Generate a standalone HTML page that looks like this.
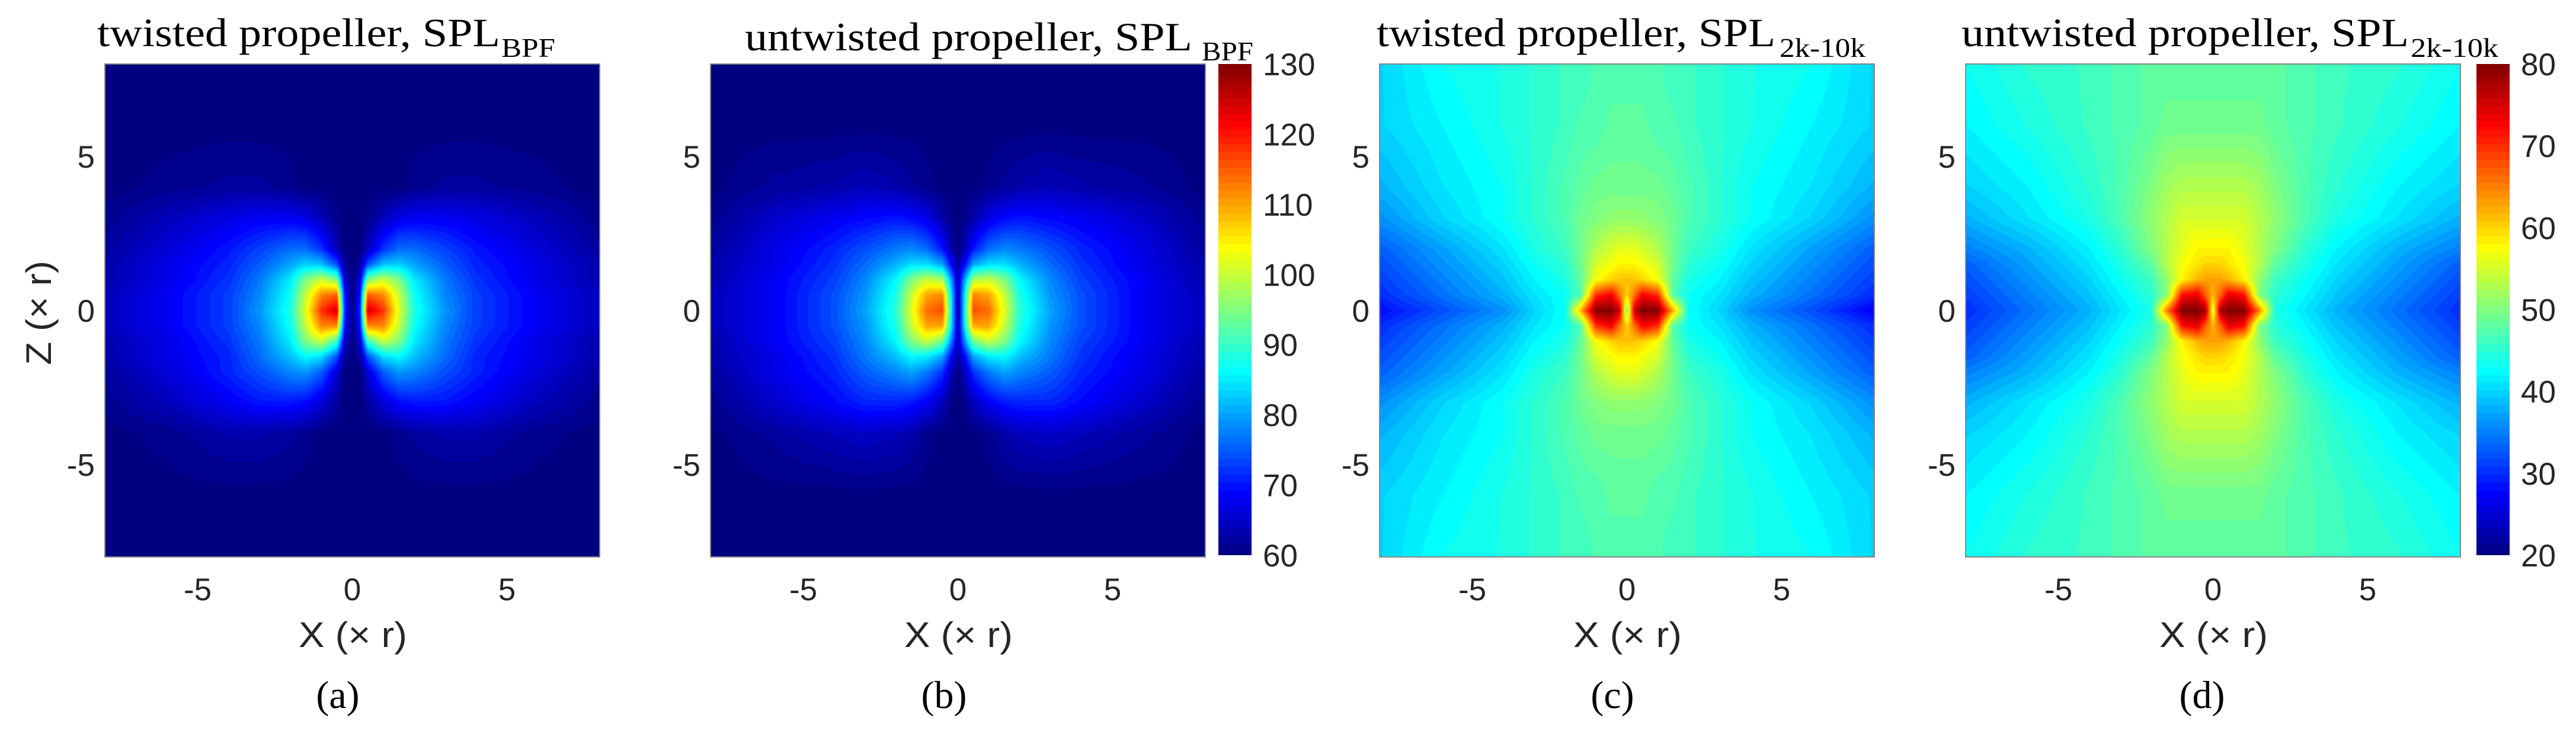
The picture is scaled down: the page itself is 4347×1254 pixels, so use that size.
<!DOCTYPE html>
<html><head><meta charset="utf-8">
<style>
html,body{margin:0;padding:0;background:#fff;}
#root{position:relative;width:4347px;height:1254px;overflow:hidden;background:#fff;}
canvas{position:absolute;}
svg{position:absolute;left:0;top:0;}
.tk{font-family:"Liberation Sans",Arial,sans-serif;font-size:53px;fill:#262626;}
.al{font-family:"Liberation Sans",Arial,sans-serif;font-size:60px;fill:#262626;}
.tt{font-family:"Liberation Serif","Times New Roman",serif;fill:#000;}
</style></head>
<body>
<div id="root">
<svg id="ov" width="4347" height="1254"></svg>
</div>
<script>
// ---- data ----
const xs=[-8,-6,-4,-3,-2,-1.5,-1,-0.5,-0.25,0,0.25,0.5,1,1.5,2,3,4,6,8];
const zs=[8,6,4,3,2,1.5,1,0.5,0,-0.5,-1,-1.5,-2,-3,-4,-6,-8];
const xTicks=[-5,0,5];
const zTicks=[5,0,-5];
const cbarTicksBPF=[60,70,80,90,100,110,120,130];
const cbarTicks2k=[20,30,40,50,60,70,80];
const valsA=[
[60,60,60,60,60,60,60,60,60,60,60,60,60,60,60,60,60,60,60],
[60,60,60,60,60,60,60,60,60,60,60,60,60,60,60,60,60,60,60],
[60,61,62,62,61,60,60,60,60,60,60,60,60,60,61,62,62,61,60],
[61,64,67,68,68,67,64,61,60,60,60,61,64,67,68,68,67,64,61],
[62,66,70,73,76,76,72,64,60,60,60,64,72,76,76,73,70,66,62],
[63,67,71,75,80,83,82,74,62,60,62,74,82,83,80,75,71,67,63],
[63,67,72,77,85,95,100,95,66,60,66,95,100,95,85,77,72,67,63],
[64,68,73,78,87,100,112,115,70,60,70,115,112,100,87,78,73,68,64],
[64,68,73,79,88,102,118,124,72,60,72,124,118,102,88,79,73,68,64],
[64,68,73,78,87,100,112,112,70,60,70,112,112,100,87,78,73,68,64],
[63,67,72,77,85,95,100,90,66,60,66,90,100,95,85,77,72,67,63],
[63,67,71,76,82,86,84,74,62,60,62,74,84,86,82,76,71,67,63],
[62,66,71,74,78,79,75,66,60,60,60,66,75,79,78,74,71,66,62],
[61,64,68,70,70,69,66,62,60,60,60,62,66,69,70,70,68,64,61],
[60,61,63,63,62,61,60,60,60,60,60,60,60,61,62,63,63,61,60],
[60,60,60,60,60,60,60,60,60,60,60,60,60,60,60,60,60,60,60],
[60,60,60,60,60,60,60,60,60,60,60,60,60,60,60,60,60,60,60]];
const valsB=[
[60,60,60,60,60,60,60,60,60,60,60,60,60,60,60,60,60,60,60],
[60,60,60,60,60,60,60,60,60,60,60,60,60,60,60,60,60,60,60],
[60,62,63,64,63,62,61,60,60,60,60,60,61,62,63,64,63,62,60],
[61,65,68,69,70,69,67,63,61,60,61,63,67,69,70,69,68,65,61],
[62,67,71,74,77,78,76,70,64,60,64,70,76,78,77,74,71,67,62],
[63,67,72,76,81,84,84,80,70,62,70,80,84,84,81,76,72,67,63],
[63,68,73,78,86,95,100,98,82,64,82,98,100,95,86,78,73,68,63],
[64,68,74,79,88,100,110,112,88,64,88,112,110,100,88,79,74,68,64],
[64,68,74,80,89,102,114,116,90,62,90,116,114,102,89,80,74,68,64],
[64,68,74,79,88,100,110,110,88,64,88,110,110,100,88,79,74,68,64],
[63,68,73,78,86,95,100,94,80,64,80,94,100,95,86,78,73,68,63],
[63,67,72,77,82,86,85,80,70,62,70,80,85,86,82,77,72,67,63],
[62,67,71,75,78,80,77,72,65,60,65,72,77,80,78,75,71,67,62],
[61,65,69,71,71,70,68,64,61,60,61,64,68,70,71,71,69,65,61],
[60,62,64,65,64,63,61,60,60,60,60,60,61,63,64,65,64,62,60],
[60,60,60,60,60,60,60,60,60,60,60,60,60,60,60,60,60,60,60],
[60,60,60,60,60,60,60,60,60,60,60,60,60,60,60,60,60,60,60]];
const valsC=[
[40,43,44,45,46,46,47,47,47,47,47,47,47,46,46,45,44,43,40],
[40,42,44,45,46,47,47,48,48,48,48,48,47,47,46,45,44,42,40],
[38,41,43,45,47,48,49,49,49,49,49,49,49,48,47,45,43,41,38],
[36,40,43,45,47,49,50,51,51,51,51,51,50,49,47,45,43,40,36],
[33,37,41,44,46,49,53,55,56,56,56,55,53,49,46,44,41,37,33],
[32,36,40,43,45,49,55,57,58,58,58,57,55,49,45,43,40,36,32],
[31,35,39,42,44,48,57,60,61,61,61,60,57,48,44,42,39,35,31],
[30,34,38,41,43,47,70,73,66,60,66,73,70,47,43,41,38,34,30],
[28,32,36,40,43,62,80,80,76,50,76,80,80,62,43,40,36,32,27],
[30,34,38,41,43,47,70,73,66,60,66,73,70,47,43,41,38,34,30],
[31,35,39,42,44,48,57,60,61,61,61,60,57,48,44,42,39,35,31],
[32,36,40,43,45,49,55,57,58,58,58,57,55,49,45,43,40,36,32],
[33,37,41,44,46,49,53,55,56,56,56,55,53,49,46,44,41,37,33],
[36,40,43,45,47,49,50,51,51,51,51,51,50,49,47,45,43,40,36],
[38,41,43,45,47,48,49,49,49,49,49,49,49,48,47,45,43,41,38],
[40,42,44,45,46,47,47,48,48,48,48,48,47,47,46,45,44,42,40],
[40,43,44,45,46,46,47,47,47,47,47,47,47,46,46,45,44,43,40]];
const valsD=[
[43,45,46,47,48,48,48,48,48,48,48,48,48,48,48,47,46,45,43],
[42,44,46,47,48,49,49,49,49,49,49,49,49,49,48,47,46,44,42],
[40,42,45,47,50,52,53,53,53,53,53,53,53,52,50,47,45,42,40],
[38,41,44,47,51,53,55,55,55,55,55,55,55,53,51,47,44,41,38],
[35,38,42,45,50,53,56,58,58,58,58,58,56,53,50,45,42,38,35],
[33,37,41,44,48,53,57,59,60,60,60,59,57,53,48,44,41,37,33],
[32,36,40,43,46,51,58,62,63,63,63,62,58,51,46,43,40,36,32],
[31,35,39,42,45,50,72,74,67,62,67,74,72,50,45,42,39,35,31],
[30,34,38,41,44,65,80,80,78,55,78,80,80,65,44,41,38,34,30],
[31,35,39,42,45,50,72,74,67,62,67,74,72,50,45,42,39,35,31],
[32,36,40,43,46,51,58,62,63,63,63,62,58,51,46,43,40,36,32],
[33,37,41,44,48,53,57,59,60,60,60,59,57,53,48,44,41,37,33],
[35,38,42,45,50,53,56,58,58,58,58,58,56,53,50,45,42,38,35],
[38,41,44,47,51,53,55,55,55,55,55,55,55,53,51,47,44,41,38],
[40,42,45,47,50,52,53,53,53,53,53,53,53,52,50,47,45,42,40],
[42,44,46,47,48,49,49,49,49,49,49,49,49,49,48,47,46,44,42],
[43,45,46,47,48,48,48,48,48,48,48,48,48,48,48,47,46,45,43]];

// ---- layout ----
const TOP=108,H=832,W=835;
const panels=[
 {id:'a',left:177,vals:valsA,vmin:60,vmax:130,t1:'twisted propeller, SPL',t2:'BPF',tx:164,tw:680,sx:846,sw:91,by:78,sby:96,lab:'(a)',lx:570},
 {id:'b',left:1199,vals:valsB,vmin:60,vmax:130,t1:'untwisted propeller, SPL',t2:'BPF',tx:1257,tw:755,sx:2028,sw:87,by:85,sby:102,lab:'(b)',lx:1593,cb:{x:2056,w:56,ticks:cbarTicksBPF}},
 {id:'c',left:2328,vals:valsC,vmin:20,vmax:80,t1:'twisted propeller, SPL',t2:'2k-10k',tx:2323,tw:673,sx:3003,sw:145,by:78,sby:96,lab:'(c)',lx:2721},
 {id:'d',left:3317,vals:valsD,vmin:20,vmax:80,t1:'untwisted propeller, SPL',t2:'2k-10k',tx:3310,tw:755,sx:4068,sw:148,by:78,sby:96,lab:'(d)',lx:3716,cb:{x:4179,w:56,ticks:cbarTicks2k}}
];
function xPix(p,v){return p.left+(v+8)/16*W;}
function zPix(v){return TOP+(8-v)/16*H;}
function jet(t){t=Math.max(0,Math.min(1,t));
 const c=v=>Math.round(255*Math.max(0,Math.min(1,v)));
 return [c(1.5-Math.abs(4*t-3)),c(1.5-Math.abs(4*t-2)),c(1.5-Math.abs(4*t-1))];}
function seg(arr,v,desc){
 for(let i=0;i<arr.length-1;i++){const a=arr[i],b=arr[i+1];
  if(desc? (v<=a&&v>=b):(v>=a&&v<=b)){return [i,(v-a)/(b-a)];}}
 return [arr.length-2,1];}
const root=document.getElementById('root');
const ov=document.getElementById('ov');
const NS='http://www.w3.org/2000/svg';
function txt(x,y,s,cls,anchor,extra){const t=document.createElementNS(NS,'text');
 t.setAttribute('x',x);t.setAttribute('y',y);t.setAttribute('class',cls);
 if(anchor)t.setAttribute('text-anchor',anchor);
 if(extra)for(const k in extra)t.setAttribute(k,extra[k]);
 t.textContent=s;ov.appendChild(t);return t;}

panels.forEach(p=>{
 const cv=document.createElement('canvas');
 cv.width=W;cv.height=H;cv.style.left=p.left+'px';cv.style.top=TOP+'px';
 
 
 root.insertBefore(cv,ov);
 const ctx=cv.getContext('2d');const img=ctx.createImageData(W,H);
 const xi=[];for(let px=0;px<W;px++){xi.push(seg(xs,-8+16*(px+0.5)/W,false));}
 for(let py=0;py<H;py++){
  const [j,g]=seg(zs,8-16*(py+0.5)/H,true);
  const r0=p.vals[j],r1=p.vals[j+1];
  for(let px=0;px<W;px++){const [i,f]=xi[px];
   const v=(r0[i]*(1-f)+r0[i+1]*f)*(1-g)+(r1[i]*(1-f)+r1[i+1]*f)*g;
   const q=Math.round((v-p.vmin)/(p.vmax-p.vmin)*64)/64;
   const c=jet(q);const k=(py*W+px)*4;
   img.data[k]=c[0];img.data[k+1]=c[1];img.data[k+2]=c[2];img.data[k+3]=255;}}
 ctx.putImageData(img,0,0);
 const fr=document.createElementNS(NS,'rect');
 fr.setAttribute('x',p.left);fr.setAttribute('y',TOP);fr.setAttribute('width',W);fr.setAttribute('height',H);
 fr.setAttribute('fill','none');fr.setAttribute('stroke','#888');fr.setAttribute('stroke-width','2');
 
 
 ov.appendChild(fr);
 xTicks.forEach(v=>{const t=txt(xPix(p,v),1013,String(v),'tk','middle');
  
  });
 zTicks.forEach(v=>{const t=txt(p.left-17,zPix(v)+19,String(v),'tk','end');
  
  });
 const xl=txt(p.left+W/2+1,1092,'X (\u00d7 r)','al','middle',{textLength:183,lengthAdjust:'spacingAndGlyphs'});
 
 
 const t1=txt(p.tx,p.by,p.t1,'tt',null,{'font-size':68,textLength:p.tw,lengthAdjust:'spacingAndGlyphs'});
 
 
 const t2=txt(p.sx,p.sby,p.t2,'tt',null,{'font-size':46,textLength:p.sw,lengthAdjust:'spacingAndGlyphs'});
 
 
 const lb=txt(p.lx,1195,p.lab,'tt','middle',{'font-size':66});
 
 
 if(p.cb){
  const cc=document.createElement('canvas');cc.width=p.cb.w;cc.height=829;
  cc.style.left=p.cb.x+'px';cc.style.top=TOP+'px';
  
  
  root.insertBefore(cc,ov);
  const g=cc.getContext('2d');
  for(let y=0;y<829;y++){const q=Math.round((1-(y+0.5)/829)*64)/64;const c=jet(q);
   g.fillStyle='rgb('+c+')';g.fillRect(0,y,p.cb.w,1);}
  const tk=p.cb.ticks,lo=tk[0],hi=tk[tk.length-1];
  tk.forEach(v=>{const y=TOP+(hi-v)/(hi-lo)*829;
   const t=txt(p.cb.x+p.cb.w+19,y+19,String(v),'tk');
   
   });
 }
});
const yl=txt(0,0,'Z (\u00d7 r)','al','middle',{transform:'translate(86,528) rotate(-90)',textLength:176,lengthAdjust:'spacingAndGlyphs'});


</script>
</body></html>
